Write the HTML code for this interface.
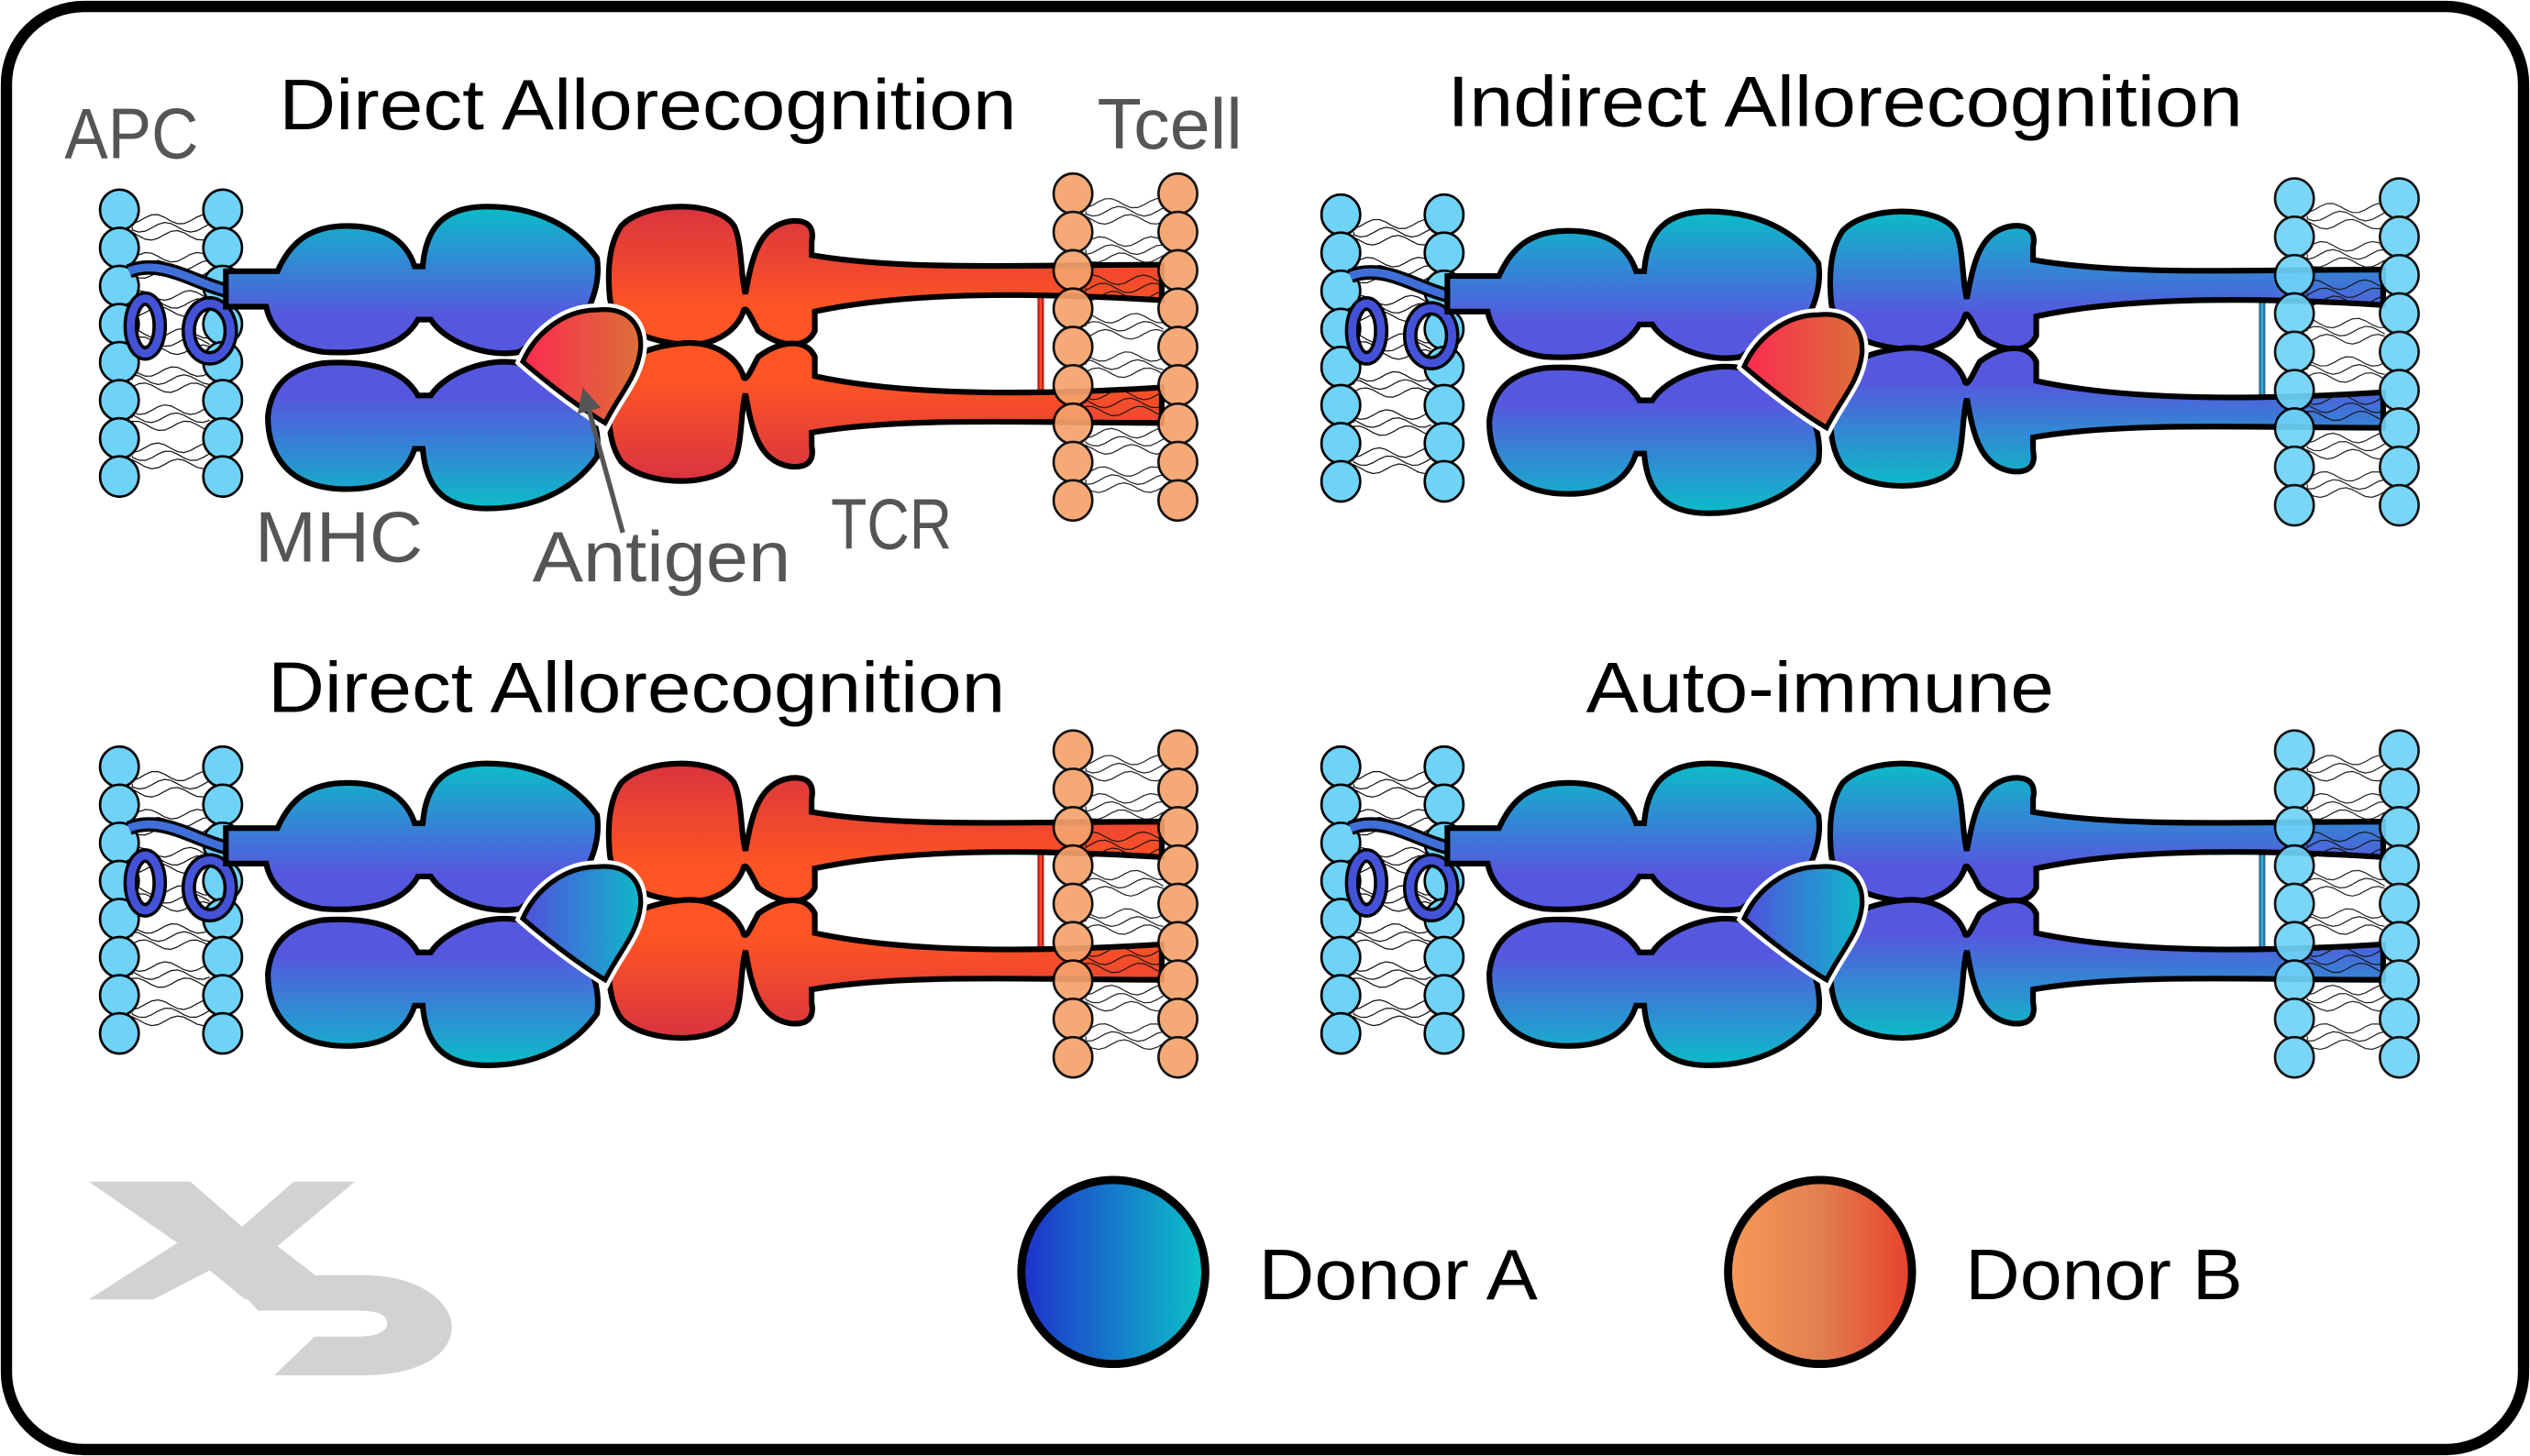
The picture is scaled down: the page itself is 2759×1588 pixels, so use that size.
<!DOCTYPE html>
<html><head><meta charset="utf-8"><style>
html,body{margin:0;padding:0;background:#fff;}
svg{display:block;}
text{font-family:"Liberation Sans",sans-serif;}
</style></head><body>
<svg id="s" width="2759" height="1588" viewBox="0 0 1568 902" preserveAspectRatio="none" xmlns="http://www.w3.org/2000/svg">
<defs>
<linearGradient id="gB" x1="0" y1="0" x2="0" y2="1"><stop offset="0" stop-color="#0cbcc8"/><stop offset="0.75" stop-color="#5558de"/></linearGradient>
<linearGradient id="gR" x1="0" y1="0" x2="0" y2="1"><stop offset="0" stop-color="#d8343f"/><stop offset="0.75" stop-color="#ff5524"/></linearGradient>
<linearGradient id="aR" x1="0" y1="0" x2="1" y2="0"><stop offset="0" stop-color="#fb2a50"/><stop offset="1" stop-color="#dc7038"/></linearGradient>
<linearGradient id="aB" x1="0" y1="0" x2="1" y2="0"><stop offset="0" stop-color="#5050de"/><stop offset="1" stop-color="#10b8c8"/></linearGradient>
<linearGradient id="lA" x1="0" y1="0" x2="1" y2="0"><stop offset="0" stop-color="#1f30cc"/><stop offset="1" stop-color="#0cc4c8"/></linearGradient>
<linearGradient id="lB" x1="0" y1="0" x2="1" y2="0"><stop offset="0" stop-color="#f89a58"/><stop offset="0.5" stop-color="#e08050"/><stop offset="1" stop-color="#e8402c"/></linearGradient>
<marker id="ar" viewBox="0 0 10 10" refX="8" refY="5" markerWidth="5" markerHeight="5" orient="auto"><path d="M0,0 L10,5 L0,10 Z" fill="#555"/></marker>
</defs>
<rect x="4" y="4" width="1560" height="894" rx="48" fill="#fff" stroke="#000" stroke-width="7"/>
<g id="panels"></g>
<text x="173" y="80" font-size="44" textLength="457" lengthAdjust="spacingAndGlyphs">Direct Allorecognition</text>
<text x="897" y="78" font-size="44" textLength="493" lengthAdjust="spacingAndGlyphs">Indirect Allorecognition</text>
<text x="166" y="441" font-size="44" textLength="457" lengthAdjust="spacingAndGlyphs">Direct Allorecognition</text>
<text x="983" y="441" font-size="44" textLength="290" lengthAdjust="spacingAndGlyphs">Auto-immune</text>
<g fill="#555" font-size="44">
<text x="40" y="98" textLength="83" lengthAdjust="spacingAndGlyphs">APC</text>
<text x="680" y="92" textLength="90" lengthAdjust="spacingAndGlyphs">Tcell</text>
<text x="158" y="348" textLength="104" lengthAdjust="spacingAndGlyphs">MHC</text>
<text x="330" y="360" textLength="160" lengthAdjust="spacingAndGlyphs">Antigen</text>
<text x="515" y="340" textLength="75" lengthAdjust="spacingAndGlyphs">TCR</text>
</g>
<line x1="386" y1="330" x2="362" y2="243" stroke="#555" stroke-width="3" marker-end="url(#ar)"/>
<circle cx="690" cy="788" r="57" fill="url(#lA)" stroke="#000" stroke-width="5"/>
<text x="780" y="805" font-size="44" textLength="173" lengthAdjust="spacingAndGlyphs">Donor A</text>
<circle cx="1128" cy="788" r="57" fill="url(#lB)" stroke="#000" stroke-width="5"/>
<text x="1218" y="805" font-size="44" textLength="172" lengthAdjust="spacingAndGlyphs">Donor B</text>
<g fill="#d2d2d2">
<path d="M55,732 H118 L150,760 L182,732 H220 L172,772 L215,805 H152 L130,787 L95,805 H55 L110,770 Z"/>
<path d="M140,790 H225 C262,790 280,808 280,822 C280,838 262,852 225,852 H170 L195,828 H222 C235,828 240,824 240,820 C240,815 235,812 222,812 H160 Z"/>
</g>
</svg>
<script>
let h='';
function membrane(x1,x2,y0,n,st,col){
  let s='';
  for(let i=0;i<n-1;i++){
    const yc=y0+i*st+st/2;
    for(const o of [-6,-1,4]){
      let d='M'+(x1+8)+','+(yc+o);
      for(let x=x1+8;x<=x2-8;x+=4){d+=' L'+x+','+(yc+o+3*Math.sin((x-x1)/5+o+i));}
      s+='<path d="'+d+'" fill="none" stroke="#111" stroke-width="0.7"/>';
    }
  }
  for(let i=0;i<n;i++){const y=y0+i*st;
    s+='<ellipse cx="'+x1+'" cy="'+y+'" rx="12" ry="12.5" fill="'+col+'" stroke="#000" stroke-width="1.5"/>';
    s+='<ellipse cx="'+x2+'" cy="'+y+'" rx="12" ry="12.5" fill="'+col+'" stroke="#000" stroke-width="1.5"/>';}
  return s;
}
const MHC='M140,168 H172 C180,150 192,140 215,140 C240,140 252,150 257,165 L262,165 C264,140 276,128 302,128 C332,128 356,140 370,160 C373,180 362,200 350,212 C340,210 328,213 322,218 C302,222 276,212 267,198 H259 C250,214 230,220 200,218 C180,215 168,205 165,190 H140 Z';
const MHC2='M166,185 C166,160 180,140 215,140 C240,140 252,150 257,165 L262,165 C264,140 276,128 302,128 C332,128 356,140 370,160 C373,180 362,200 350,212 C340,210 328,213 322,218 C302,222 276,212 267,198 H259 C250,214 230,220 200,218 C180,215 168,205 166,185 Z';
const TCR='M385,140 C400,124 445,124 455,140 C460,150 459,172 462,182 C466,160 470,140 490,137 C500,136 505,140 503,150 V158 C560,168 640,164 720,164 V186 C640,181 560,181 505,193 V205 C500,216 485,216 470,205 C466,198 463,190 461,192 C457,206 440,216 420,213 C395,210 380,200 378,185 C376,165 378,150 385,140 Z';
const AG='M324,224 C332,206 350,192 370,192 C390,190 398,202 397,216 C395,234 384,244 375,262 C360,253 340,238 324,224 Z';
function panel(dx,dy,red,agRed,tOrange){
  let s='<g transform="translate('+dx+','+dy+')">';
  s+=membrane(74,138,130,8,23.6,'#6ed3f7');
  s+='<g fill="none"><path d="M80,168 C100,160 120,175 140,180" stroke="#000" stroke-width="9"/><path d="M80,168 C100,160 120,175 140,180" stroke="#3f6fd8" stroke-width="5"/>';
  s+='<ellipse cx="90" cy="202" rx="9" ry="17" stroke="#000" stroke-width="9"/><ellipse cx="90" cy="202" rx="9" ry="17" stroke="#4452d8" stroke-width="5"/>';
  s+='<ellipse cx="130" cy="205" rx="13" ry="17" stroke="#000" stroke-width="9"/><ellipse cx="130" cy="205" rx="13" ry="17" stroke="#4452d8" stroke-width="5"/></g>';
  const tc=red?'url(#gR)':'url(#gB)';
  s+='<line x1="645" y1="184" x2="645" y2="247" stroke="'+(red?'#c01818':'#2a6a9a')+'" stroke-width="4"/><line x1="645" y1="184" x2="645" y2="247" stroke="'+(red?'#ff4a30':'#30b0d0')+'" stroke-width="1.5"/>';
  s+='<path d="'+MHC+'" fill="url(#gB)" stroke="#000" stroke-width="3.5"/>';
  s+='<g transform="translate(0,443) scale(1,-1)"><path d="'+MHC2+'" fill="url(#gB)" stroke="#000" stroke-width="3.5"/></g>';
  s+='<path d="'+TCR+'" fill="'+tc+'" stroke="#000" stroke-width="3.5"/>';
  s+='<g transform="translate(0,426) scale(1,-1)"><path d="'+TCR+'" fill="'+tc+'" stroke="#000" stroke-width="3.5"/></g>';
  s+='<path d="'+AG+'" fill="#fff" stroke="#fff" stroke-width="8"/>';
  s+='<path d="'+AG+'" fill="url(#'+(agRed?'aR':'aB')+')" stroke="#000" stroke-width="3"/>';
  s+='<g opacity="0.92">'+membrane(665,730,120,9,23.75,tOrange?'#f5a26c':'#6ed3f7')+'</g>';
  s+='</g>';
  return s;
}
h+=panel(0,0,true,true,true);
h+=panel(757,3,false,true,false);
h+=panel(0,345,true,false,true);
h+=panel(757,345,false,false,false);
document.getElementById('panels').innerHTML=h;
</script>
</body></html>
